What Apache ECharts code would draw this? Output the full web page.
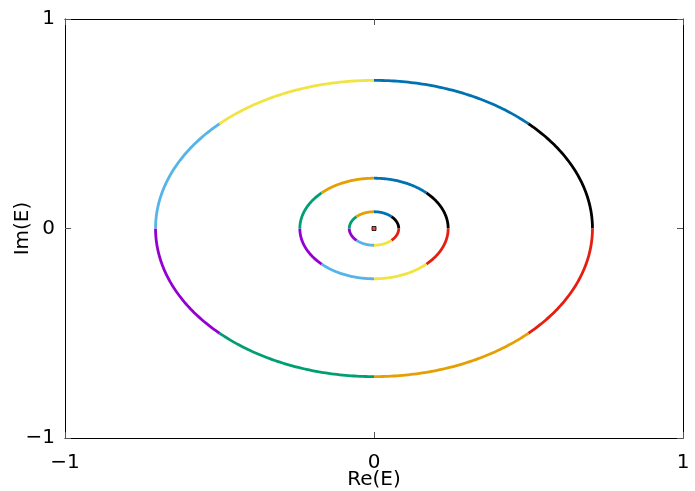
<!DOCTYPE html>
<html><head><meta charset="utf-8">
<script src="https://cdn.jsdelivr.net/npm/echarts@6/dist/echarts.min.js"></script>
<style>html,body{margin:0;padding:0;background:#fff}#c{width:695px;height:491px}</style>
</head><body><div id="c"></div>
<script>
// Ring radii (|E|)
const radii = [0.707, 0.24, 0.08];
// Segment boundaries in degrees, going clockwise from the top
const segStart = [90, 45, 0, -45, -90, -135, -180, -225];
const segEnd   = [45, 0, -45, -90, -135, -180, -225, -270];
// Colour order of the 8 segments on each ring
const outerColors = ['#0072b2', '#000000', '#e51e10', '#e69f00', '#009e73', '#9400d3', '#56b4e9', '#f0e442'];
const innerColors = ['#0072b2', '#000000', '#e51e10', '#f0e442', '#56b4e9', '#9400d3', '#009e73', '#e69f00'];
const ringColors = [outerColors, innerColors, innerColors];
// Point at the origin
const centerPoint = [[0, 0]];
const xTicks = [-1, 0, 1];
const yTicks = [-1, 0, 1];

const arcData = [];
radii.forEach((r, i) => {
  segStart.forEach((s, j) => {
    arcData.push({ value: [r, s, segEnd[j]], itemStyle: { color: ringColors[i][j] } });
  });
});

const font = 'DejaVu Sans';
const chart = echarts.init(document.getElementById('c'), null, { renderer: 'canvas' });
const axisCommon = {
  type: 'value', min: -1, max: 1, interval: 1,
  axisLine: { show: true, onZero: false, lineStyle: { color: '#000', width: 1 } },
  axisTick: { show: true, inside: true, length: 6, lineStyle: { color: '#555' } },
  splitLine: { show: false }
};
const fmt = v => (v < 0 ? '\u2212' + Math.abs(v) : String(v));
chart.setOption({
  animation: false,
  grid: { left: 65, right: 12, top: 19, bottom: 53, containLabel: false, outerBoundsMode: 'none' },
  xAxis: [
    Object.assign({}, axisCommon, {
      position: 'bottom', name: 'Re(E)', nameLocation: 'middle', nameGap: 32, nameMoveOverlap: false,
      nameTextStyle: { fontFamily: font, fontSize: 20, color: '#000' },
      axisLabel: { fontFamily: font, fontSize: 20, color: '#000', margin: 15, formatter: fmt }
    }),
    Object.assign({}, axisCommon, { position: 'top', axisLabel: { show: false } })
  ],
  yAxis: [
    Object.assign({}, axisCommon, {
      position: 'left', name: 'Im(E)', nameLocation: 'middle', nameGap: 32, nameMoveOverlap: false,
      nameTextStyle: { fontFamily: font, fontSize: 20, color: '#000' },
      axisLabel: { fontFamily: font, fontSize: 20, color: '#000', margin: 10, formatter: fmt }
    }),
    Object.assign({}, axisCommon, { position: 'right', axisLabel: { show: false } })
  ],
  series: [
    {
      type: 'custom', xAxisIndex: 0, yAxisIndex: 0,
      data: arcData,
      encode: { x: -1, y: -1 },
      renderItem: function (params, api) {
        const r = api.value(0), a0 = api.value(1), a1 = api.value(2);
        const n = 60, pts = [];
        for (let k = 0; k <= n; k++) {
          const a = (a0 + (a1 - a0) * k / n) * Math.PI / 180;
          pts.push(api.coord([r * Math.cos(a), r * Math.sin(a)]));
        }
        return {
          type: 'polyline',
          shape: { points: pts },
          style: { stroke: api.visual('color'), lineWidth: 2.8, fill: null }
        };
      }
    },
    {
      type: 'scatter', xAxisIndex: 0, yAxisIndex: 0,
      data: centerPoint, symbol: 'rect', symbolSize: 4,
      itemStyle: { color: '#e51e10', borderColor: '#000', borderWidth: 1 }
    }
  ]
});
</script></body></html>
